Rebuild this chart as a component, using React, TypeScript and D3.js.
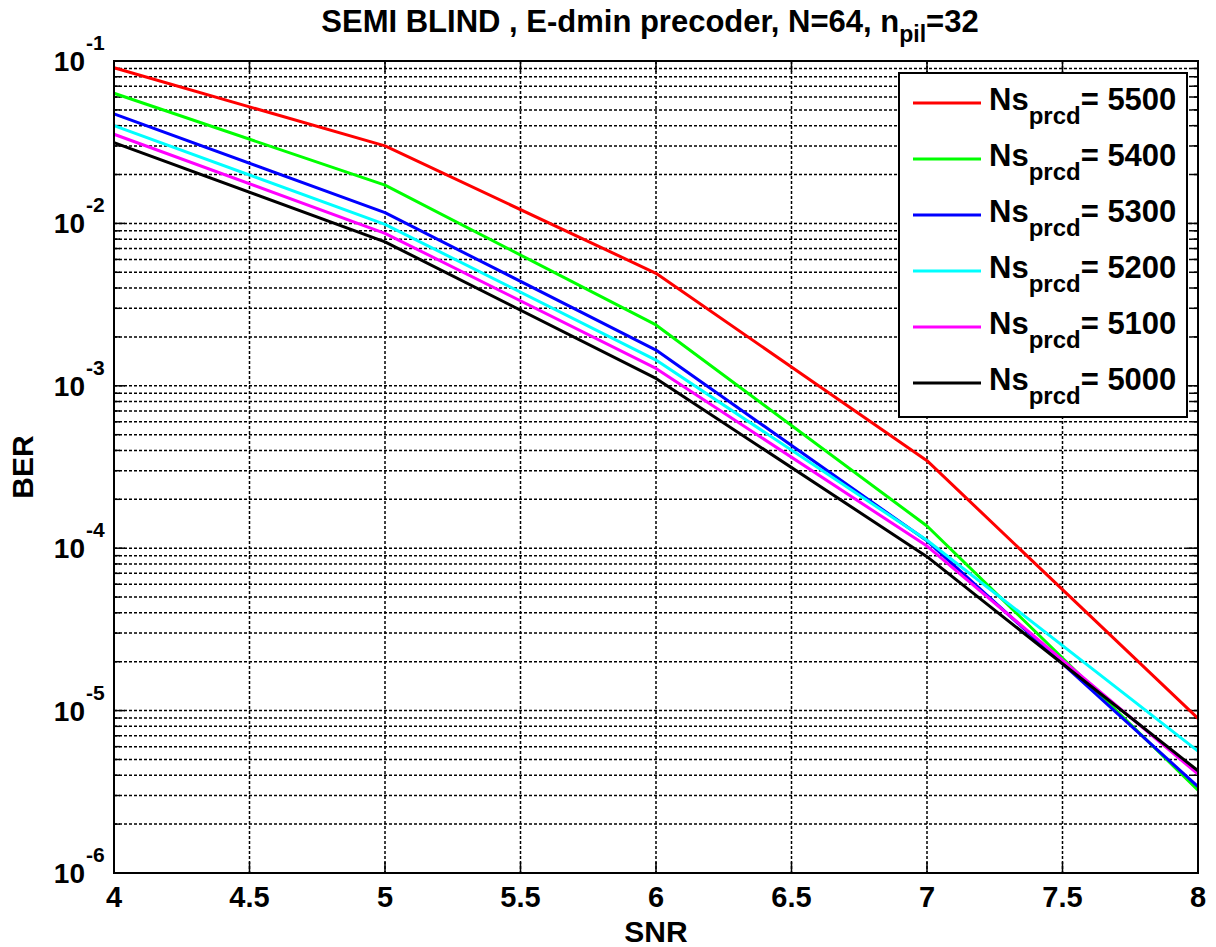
import React from "react";
import * as d3 from "d3";

const snr = [4, 5, 6, 7, 8];
const ber5500 = [0.0909, 0.030, 0.00493, 3.46e-4, 8.95e-6];
const ber5400 = [0.0633, 0.0172, 0.00237, 1.37e-4, 3.24e-6];
const ber5300 = [0.0472, 0.01164, 0.00166, 1.11e-4, 3.4e-6];
const ber5200 = [0.04, 0.00987, 0.00144, 1.12e-4, 5.63e-6];
const ber5100 = [0.0354, 0.00869, 0.00128, 1.03e-4, 4.06e-6];
const ber5000 = [0.0314, 0.0077, 0.00111, 8.87e-5, 4.26e-6];

const seriesLabels = ["5500", "5400", "5300", "5200", "5100", "5000"];
const seriesValues = [ber5500, ber5400, ber5300, ber5200, ber5100, ber5000];
const seriesColors = ["#ff0000", "#00ff00", "#0000ff", "#00ffff", "#ff00ff", "#000000"];

const xTicks = [4, 4.5, 5, 5.5, 6, 6.5, 7, 7.5, 8];
const yExponents = [-1, -2, -3, -4, -5, -6];

const W = 1216;
const H = 947;
const M = { left: 114, top: 61, right: 1198, bottom: 873 };
const FONT = "'Liberation Sans', Arial, Helvetica, sans-serif";

export default function App() {
  const x = d3.scaleLinear().domain([4, 8]).range([M.left, M.right]);
  const y = d3.scaleLog().domain([1e-6, 1e-1]).range([M.bottom, M.top]);

  const minor: number[] = [];
  for (let e = -6; e < -1; e++) {
    for (let k = 2; k <= 9; k++) minor.push(k * Math.pow(10, e));
  }
  const major = yExponents.map((e) => Math.pow(10, e));

  const line = d3
    .line<[number, number]>()
    .x((d) => x(d[0]))
    .y((d) => y(d[1]));

  const dash = "3,2";
  const legend = { x0: 899, y0: 73, x1: 1187, y1: 417 };
  const rowY = (i: number) => 103 + i * 56;

  return (
    <svg
      width={W}
      height={H}
      style={{ position: "absolute", left: 0, top: 0, background: "#fff" }}
      fontFamily={FONT}
      fontWeight="bold"
    >
      <rect x={0} y={0} width={W} height={H} fill="#fff" />
      {/* grid */}
      <g stroke="#000" strokeWidth={1.5} strokeDasharray={dash}>
        {xTicks.slice(1, -1).map((t) => (
          <line key={"vx" + t} x1={x(t)} x2={x(t)} y1={M.top} y2={M.bottom} />
        ))}
        {[...minor, ...major].map((v, i) => (
          <line key={"hy" + i} x1={M.left} x2={M.right} y1={y(v)} y2={y(v)} />
        ))}
      </g>
      {/* ticks */}
      <g stroke="#000" strokeWidth={1.5}>
        {xTicks.map((t) => (
          <g key={"xt" + t}>
            <line x1={x(t)} x2={x(t)} y1={M.bottom} y2={M.bottom - 11} />
            <line x1={x(t)} x2={x(t)} y1={M.top} y2={M.top + 11} />
          </g>
        ))}
        {major.map((v, i) => (
          <g key={"ymt" + i}>
            <line x1={M.left} x2={M.left + 11} y1={y(v)} y2={y(v)} />
            <line x1={M.right} x2={M.right - 11} y1={y(v)} y2={y(v)} />
          </g>
        ))}
        {minor.map((v, i) => (
          <g key={"ymn" + i}>
            <line x1={M.left} x2={M.left + 6} y1={y(v)} y2={y(v)} />
            <line x1={M.right} x2={M.right - 6} y1={y(v)} y2={y(v)} />
          </g>
        ))}
      </g>
      {/* data lines */}
      <g fill="none" strokeWidth={3} strokeLinejoin="round">
        {seriesValues.map((vals, i) => (
          <path
            key={"s" + i}
            d={line(snr.map((s, j) => [s, vals[j]] as [number, number])) || ""}
            stroke={seriesColors[i]}
          />
        ))}
      </g>
      {/* axes box */}
      <rect
        x={M.left}
        y={M.top}
        width={M.right - M.left}
        height={M.bottom - M.top}
        fill="none"
        stroke="#000"
        strokeWidth={2}
      />
      {/* x tick labels */}
      <g fontSize={29} textAnchor="middle" fill="#000">
        {xTicks.map((t) => (
          <text key={"xl" + t} x={x(t)} y={907}>
            {String(t)}
          </text>
        ))}
      </g>
      {/* y tick labels */}
      <g fill="#000">
        {yExponents.map((e) => (
          <g key={"yl" + e}>
            <text x={85} y={y(Math.pow(10, e)) + 10} fontSize={28} textAnchor="end">
              10
            </text>
            <text x={86} y={y(Math.pow(10, e)) - 11} fontSize={21} textAnchor="start">
              {String(e)}
            </text>
          </g>
        ))}
      </g>
      {/* axis labels */}
      <text x={656} y={942} fontSize={30} textAnchor="middle" fill="#000">
        SNR
      </text>
      <text
        transform={`translate(33,${(M.top + M.bottom) / 2}) rotate(-90)`}
        fontSize={30}
        textAnchor="middle"
        fill="#000"
      >
        BER
      </text>
      {/* title */}
      <text x={650} y={32} fontSize={31} textAnchor="middle" fill="#000">
        SEMI BLIND , E-dmin precoder, N=64, n
        <tspan fontSize={23} dy={10}>
          pil
        </tspan>
        <tspan dy={-10}>=32</tspan>
      </text>
      {/* legend */}
      <rect
        x={legend.x0}
        y={legend.y0}
        width={legend.x1 - legend.x0}
        height={legend.y1 - legend.y0}
        fill="#fff"
        stroke="#000"
        strokeWidth={2}
      />
      {seriesLabels.map((lab, i) => (
        <g key={"lg" + i}>
          <line
            x1={913}
            x2={981}
            y1={rowY(i)}
            y2={rowY(i)}
            stroke={seriesColors[i]}
            strokeWidth={3}
          />
          <text x={989} y={rowY(i) + 7} fontSize={31} fill="#000">
            Ns
            <tspan fontSize={24} dy={14}>
              prcd
            </tspan>
            <tspan dy={-14}>= {lab}</tspan>
          </text>
        </g>
      ))}
    </svg>
  );
}
